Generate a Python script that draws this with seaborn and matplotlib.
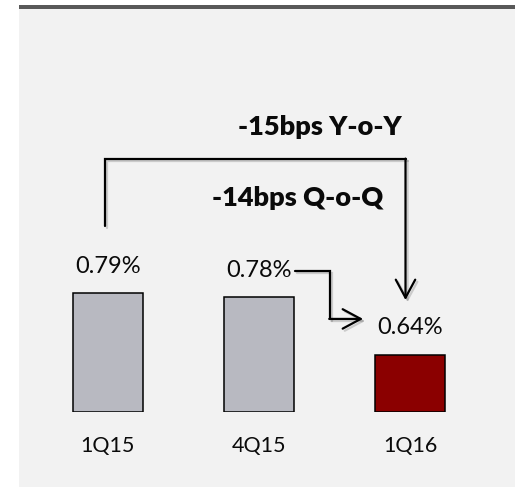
#!/usr/bin/env python3
"""NPL ratio bars with Y-o-Y / Q-o-Q change arrows."""
import matplotlib
matplotlib.use("Agg")
import matplotlib.pyplot as plt
import matplotlib.patheffects as pe
from matplotlib.patches import Rectangle
import pandas as pd
import seaborn as sns

PERIODS = ["1Q15", "4Q15", "1Q16"]
RATIO = [0.79, 0.78, 0.64]
BAR_COLORS = ["#b8b9c1", "#b8b9c1", "#8b0000"]
YOY_TEXT = "-15bps Y-o-Y"
QOQ_TEXT = "-14bps Q-o-Q"
BASE = 0.5  # value axis starts here, not at zero

sns.set_theme(style="white")
plt.rcParams["font.family"] = ["Lato", "DejaVu Sans"]

df = pd.DataFrame({"period": PERIODS, "ratio": RATIO})
df["excess"] = df["ratio"] - BASE

W, H = 515, 487
fig = plt.figure(figsize=(W / 100, H / 100), dpi=100, facecolor="white")

# panel background + dark rule along the top
fig.patches.append(Rectangle((19 / W, 0), 1, 478 / H, transform=fig.transFigure,
                             facecolor="#f2f2f2", edgecolor="none", zorder=-10))
fig.patches.append(Rectangle((19 / W, 478 / H), 1, 4 / H, transform=fig.transFigure,
                             facecolor="#595959", edgecolor="none", zorder=-10))

ax = fig.add_axes([0, 75 / H, 1, 412 / H])
ax.set_facecolor("none")

sns.barplot(data=df, x="period", y="excess", hue="period", palette=BAR_COLORS,
            width=0.46, edgecolor="black", linewidth=1.1, saturation=1,
            legend=False, ax=ax)

ax.set_xlim(-0.715, 2.695)
ax.set_ylim(0, 412 / 410)
sns.despine(ax=ax, left=True, bottom=True)
ax.set_yticks([])
ax.set_xlabel("")
ax.set_ylabel("")
ax.tick_params(axis="x", length=0, pad=17, labelsize=15.5, labelcolor="#0a0a0a")

for i, (ex, r) in enumerate(zip(df["excess"], df["ratio"])):
    ax.annotate(f"{r:.2f}%", (i, ex), xytext=(0, 19.5), textcoords="offset points",
                ha="center", va="center", fontsize=17, color="#0a0a0a")

shadow = [pe.SimpleLineShadow(offset=(1.5, -1.5), alpha=0.18), pe.Normal()]
line_kw = dict(color="black", lw=1.6, solid_joinstyle="miter", path_effects=shadow)
arrow_kw = dict(arrowstyle="->,head_length=0.65,head_width=0.35", color="black",
                lw=1.6, mutation_scale=20, shrinkA=0, shrinkB=0)

# Y-o-Y bracket: 1Q15 -> 1Q16
ax.plot([-0.02, -0.02, 1.97], [0.454, 0.617, 0.617], **line_kw)
ax.annotate("", xy=(1.97, 0.273), xytext=(1.97, 0.618),
            arrowprops=dict(**arrow_kw, path_effects=shadow))
ax.text(1.404, 0.695, YOY_TEXT, ha="center", va="center", fontsize=19.5,
        fontweight="heavy", color="#0a0a0a")

# Q-o-Q elbow: 4Q15 -> 1Q16
ax.plot([1.238, 1.47, 1.47], [0.344, 0.344, 0.227], **line_kw)
ax.annotate("", xy=(1.689, 0.227), xytext=(1.465, 0.227),
            arrowprops=dict(**arrow_kw, path_effects=shadow))
ax.text(1.258, 0.522, QOQ_TEXT, ha="center", va="center", fontsize=19.5,
        fontweight="heavy", color="#0a0a0a")

fig.savefig("out.png", dpi=100, facecolor=fig.get_facecolor())
